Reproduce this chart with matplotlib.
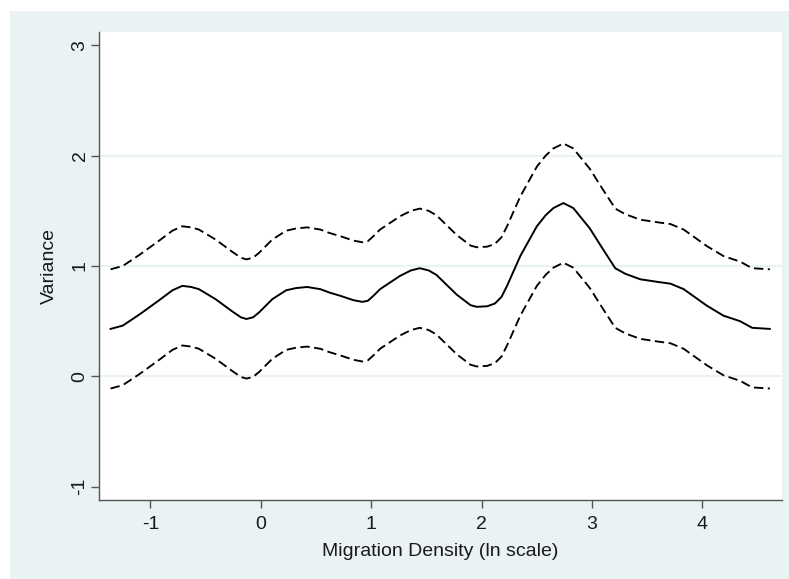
import matplotlib
matplotlib.use("Agg")
import matplotlib.pyplot as plt
from matplotlib.patches import Rectangle

# Data
x = [-1.36, -1.25, -1.10, -0.92, -0.80, -0.71, -0.63, -0.56, -0.41, -0.26, -0.18,
     -0.13, -0.07, -0.015, 0.105, 0.23, 0.32, 0.42, 0.54, 0.62, 0.72, 0.84, 0.92,
     0.97, 1.02, 1.08, 1.26, 1.36, 1.44, 1.52, 1.59, 1.775, 1.90, 1.955, 2.05,
     2.12, 2.18, 2.23, 2.35, 2.50, 2.58, 2.65, 2.74, 2.83, 2.98, 3.10, 3.21,
     3.30, 3.435, 3.60, 3.71, 3.83, 4.04, 4.19, 4.34, 4.45, 4.61]
mean = [0.43, 0.46, 0.56, 0.69, 0.78, 0.82, 0.81, 0.79, 0.70, 0.59, 0.535,
        0.52, 0.535, 0.58, 0.70, 0.78, 0.80, 0.81, 0.79, 0.76, 0.73, 0.69, 0.675,
        0.685, 0.73, 0.79, 0.91, 0.96, 0.98, 0.96, 0.92, 0.74, 0.645, 0.63, 0.635,
        0.66, 0.72, 0.82, 1.09, 1.36, 1.46, 1.525, 1.57, 1.525, 1.34, 1.15, 0.98,
        0.93, 0.88, 0.855, 0.84, 0.79, 0.64, 0.55, 0.50, 0.44, 0.43]
upper = [0.97, 1.00, 1.10, 1.23, 1.32, 1.36, 1.35, 1.33, 1.24, 1.13, 1.075,
         1.06, 1.075, 1.12, 1.24, 1.32, 1.34, 1.35, 1.33, 1.30, 1.27, 1.23, 1.215,
         1.225, 1.27, 1.33, 1.45, 1.50, 1.52, 1.50, 1.46, 1.28, 1.185, 1.17, 1.175,
         1.20, 1.26, 1.36, 1.63, 1.90, 2.00, 2.065, 2.11, 2.065, 1.88, 1.69, 1.52,
         1.47, 1.42, 1.395, 1.38, 1.33, 1.18, 1.09, 1.04, 0.98, 0.97]
lower = [-0.11, -0.08, 0.02, 0.15, 0.24, 0.28, 0.27, 0.25, 0.16, 0.05, -0.005,
         -0.02, -0.005, 0.04, 0.16, 0.24, 0.26, 0.27, 0.25, 0.22, 0.19, 0.15, 0.135,
         0.145, 0.19, 0.25, 0.37, 0.42, 0.44, 0.42, 0.38, 0.20, 0.105, 0.09, 0.095,
         0.12, 0.18, 0.28, 0.55, 0.82, 0.92, 0.985, 1.03, 0.985, 0.80, 0.61, 0.44,
         0.39, 0.34, 0.315, 0.30, 0.25, 0.10, 0.01, -0.04, -0.10, -0.11]

xticks = [-1, 0, 1, 2, 3, 4]
yticks = [-1, 0, 1, 2, 3]
xlabel = "Migration Density (ln scale)"
ylabel = "Variance"

BG = "#EAF2F3"
AX = "#555555"
TXT = "#1a1a1a"

plt.rcParams['font.family'] = ['Liberation Sans', 'DejaVu Sans']

W, H = 789, 579
fig = plt.figure(figsize=(W / 100, H / 100), dpi=100, facecolor="white")
fig.patches.append(Rectangle((10 / W, 0), 1 - 10 / W, (H - 11) / H,
                             transform=fig.transFigure, facecolor=BG,
                             edgecolor="none", zorder=-10))

ax = fig.add_axes([99 / W, 1 - 500 / H, (782 - 99) / W, (500 - 32) / H])
ax.set_facecolor("white")

for g in [0, 1, 2]:
    ax.axhline(g, color=BG, lw=1.6, zorder=1)

dash = (0, (5.0, 2.4))
ax.plot(x, upper, color="black", lw=1.35, linestyle=dash, zorder=3)
ax.plot(x, mean, color="black", lw=1.4, zorder=3)
ax.plot(x, lower, color="black", lw=1.35, linestyle=dash, zorder=3)

ax.set_xlim(-1.465, 4.72)
ax.set_ylim(-1.12, 3.12)

for s in ["top", "right"]:
    ax.spines[s].set_visible(False)
for s in ["left", "bottom"]:
    ax.spines[s].set_color(AX)
    ax.spines[s].set_linewidth(1.0)

ax.set_xticks(xticks)
ax.set_xticklabels([str(t) for t in xticks])
ax.set_yticks(yticks)
ax.set_yticklabels([str(t) for t in yticks], rotation=90, va="center")
ax.tick_params(axis="both", color=AX, length=5.5, width=1.0,
               labelsize=14, labelcolor=TXT)
ax.tick_params(axis="x", pad=6)
ax.tick_params(axis="y", pad=2)

ax.set_xlabel(xlabel, fontsize=14, color=TXT, labelpad=7)
ax.set_ylabel(ylabel, fontsize=14, color=TXT, labelpad=10)

fig.savefig("out.png", dpi=100, facecolor=fig.get_facecolor())
